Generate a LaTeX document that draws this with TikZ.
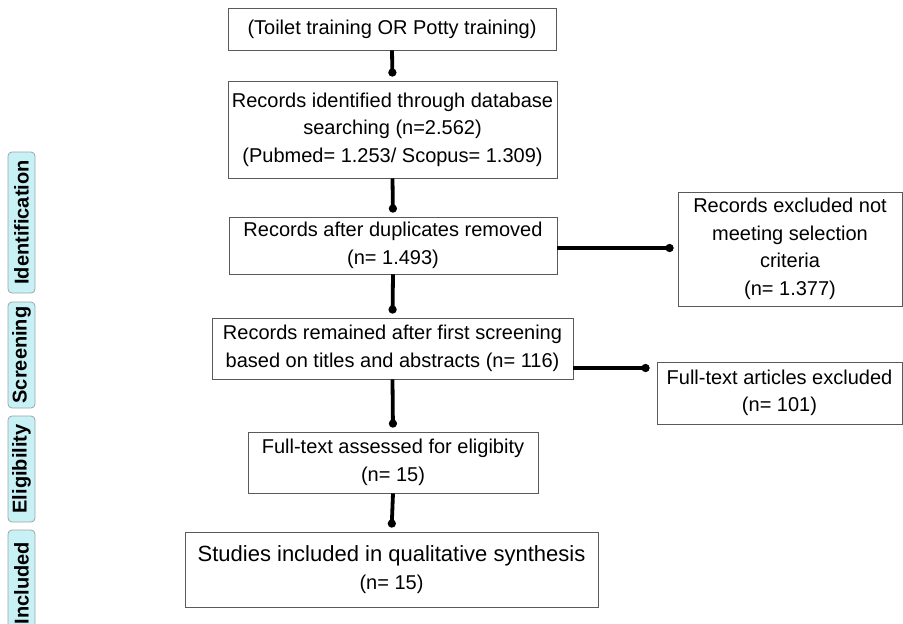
\documentclass[tikz,border=0pt]{standalone}
\usepackage{fontspec}
\setmainfont{Liberation Sans}
\usetikzlibrary{arrows.meta}
\definecolor{boxline}{HTML}{5A5A5A}
\definecolor{tabfill}{HTML}{C8F1F5}
\definecolor{tabline}{HTML}{9AA6A8}
\begin{document}
\begin{tikzpicture}[x=1pt,y=-1pt,
  flowbox/.style={draw=boxline,line width=0.9pt,rectangle,inner sep=0pt,align=center,
    font=\fontsize{20pt}{27.5pt}\selectfont,text=black},
  bigbox/.style={flowbox,font=\fontsize{22pt}{28pt}\selectfont},
  arr/.style={line width=3.8pt,-{Circle[length=8pt,width=8pt]},shorten >=4pt},
  tab/.style={draw=tabline,fill=tabfill,line width=0.8pt,rounded corners=4pt,rotate=90,
    minimum height=27pt,inner sep=0pt,font=\fontsize{20pt}{24pt}\selectfont\bfseries}]
\useasboundingbox (0,0) rectangle (903,624);
\fill[white] (0,0) rectangle (903,624);

% side tabs
\node[tab,minimum width=141pt] (tid) at (21.5,222.5) {Identification};
\node[tab,minimum width=106pt] (tsc) at (21.5,355) {Screening};
\node[tab,minimum width=106pt] (tel) at (21.5,469) {Eligibility};
\node[tab,minimum width=106pt] (tin) at (21.5,583) {Included};

% main column
\node[flowbox,minimum width=328pt,minimum height=42pt] (b1) at (392,29) {(Toilet training OR Potty training)};
\node[flowbox,minimum width=329pt,minimum height=97pt] (b2) at (392.5,129.5)
  {Records identified through database\\searching (n=2.562)\\(Pubmed= 1.253/ Scopus= 1.309)};
\node[flowbox,minimum width=328pt,minimum height=57pt] (b3) at (393,245.5)
  {Records after duplicates removed\\(n= 1.493)};
\node[flowbox,minimum width=361pt,minimum height=61pt] (b4) at (392.5,348.5)
  {Records remained after first screening\\based on titles and abstracts (n= 116)};
\node[flowbox,minimum width=290pt,minimum height=61pt] (b5) at (393,462.5)
  {Full-text assessed for eligibity\\(n= 15)};
\node[bigbox,minimum width=413pt,minimum height=75pt] (b6) at (391.5,569.5)
  {Studies included in qualitative synthesis\\{\fontsize{20pt}{27pt}\selectfont (n= 15)}};

% right column
\node[flowbox,minimum width=224pt,minimum height=114pt] (r1) at (790,249)
  {Records excluded not\\meeting selection\\criteria\\(n= 1.377)};
\node[flowbox,minimum width=245pt,minimum height=62pt] (r2) at (779.5,393)
  {Full-text articles excluded\\(n= 101)};

% connectors
\draw[arr] (b1.south) -- (b2.north);
\draw[arr] (b2.south) -- (b3.north);
\draw[arr] (b3.south) -- (b4.north);
\draw[arr] (b4.south) -- (b5.north);
\draw[arr] (b5.south) -- (b6.north);
\draw[arr] ([yshift=-2.5pt]b3.east) -- ([yshift=1pt]r1.west);
\draw[arr,shorten >=7pt] ([yshift=-19.5pt]b4.east) -- ([yshift=25pt]r2.west);
\end{tikzpicture}
\end{document}
